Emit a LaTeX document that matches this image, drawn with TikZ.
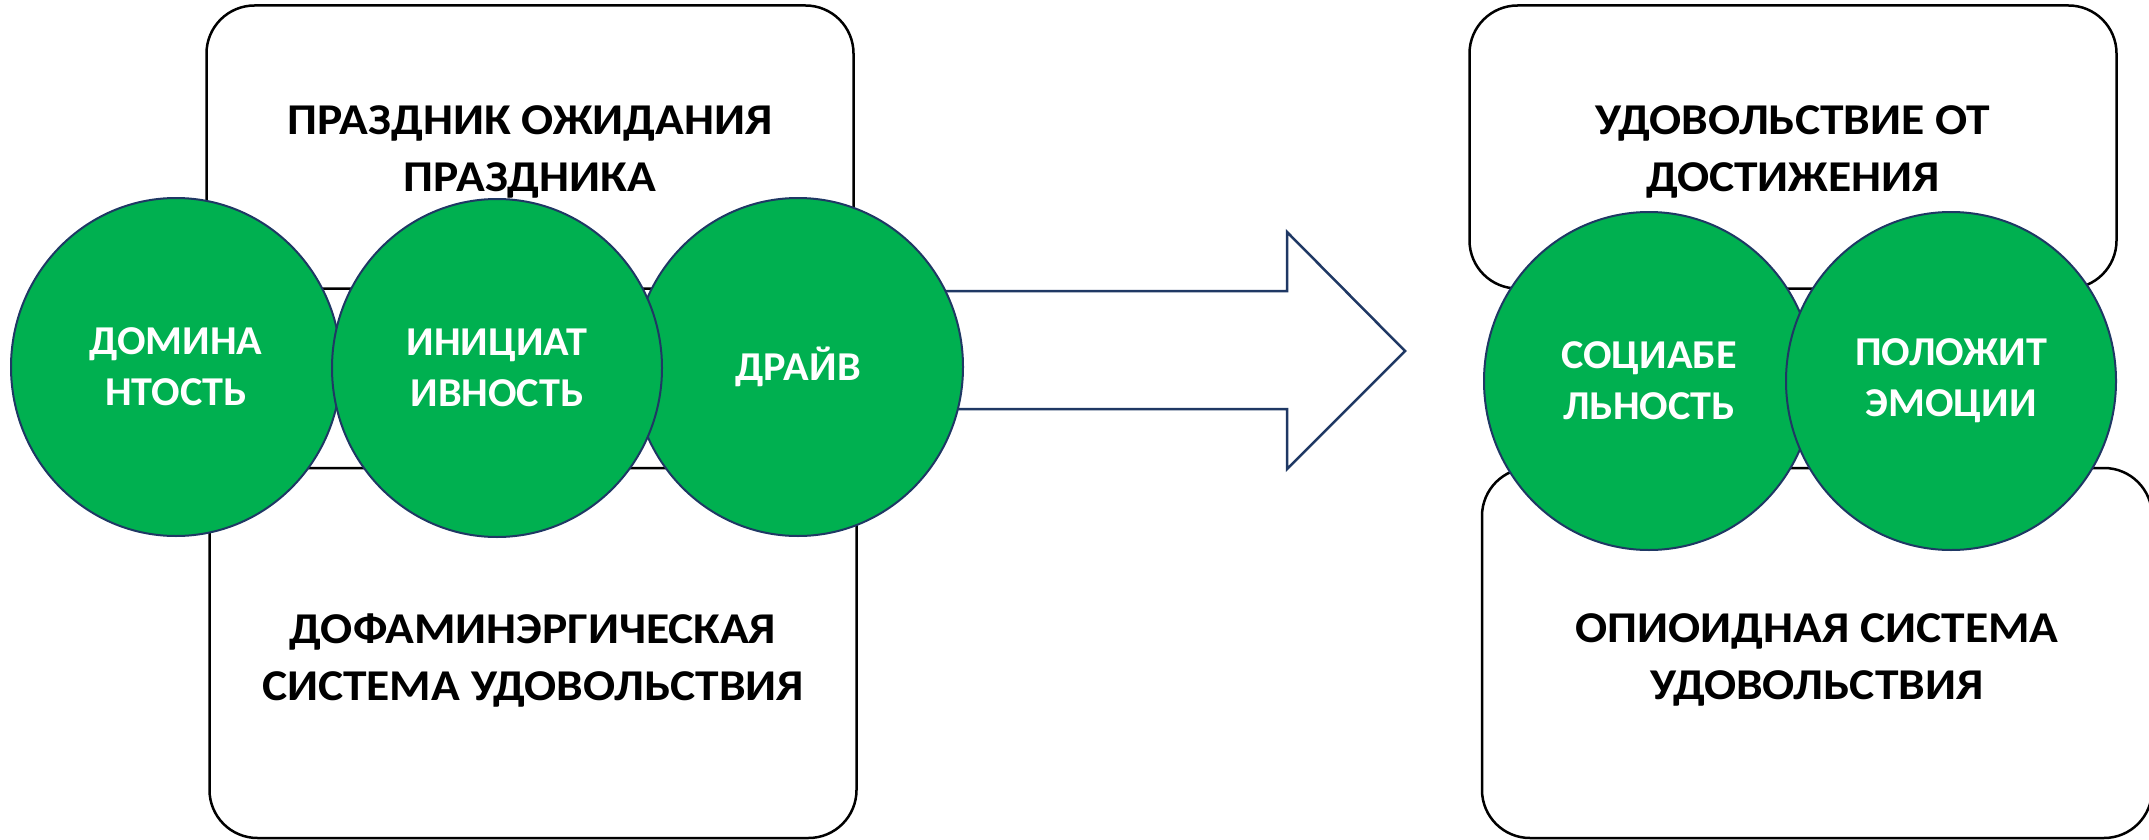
\documentclass[tikz,border=0pt]{standalone}
\usepackage{fontspec}
\setmainfont{Carlito}
\newfontfamily\boxfont[FakeStretch=1.08]{Carlito}
\newfontfamily\bubblefont[FakeStretch=1.03]{Carlito}
\usetikzlibrary{shapes.geometric}
\definecolor{bubblegreen}{HTML}{00B050}
\definecolor{bubbleedge}{HTML}{1F3864}

\begin{document}
\begin{tikzpicture}[x=1pt, y=-1pt,
                    box/.style={rectangle,draw=black,line width=2.5pt,rounded corners=48pt,fill=white},
                    boxtext/.style={align=center,font=\boxfont\fontsize{44}{57}\selectfont\bfseries},
                    bubble/.style={ellipse,draw=bubbleedge,line width=2pt,fill=bubblegreen,text=white,
                                   minimum width=330pt,minimum height=338pt,inner sep=0pt,
                                   align=center,font=\bubblefont\fontsize{41}{51}\selectfont\bfseries},
                    blockarrow/.style={draw=bubbleedge,line width=2.5pt,fill=white,line join=miter}]

   \path[use as bounding box] (0,0) rectangle (2149,840);
   \clip (0,0) rectangle (2149,840);

   % left side
   \node[box,minimum width=647pt,minimum height=283pt] (wait) at (530,147) {};
   \node[box,minimum width=647pt,minimum height=370pt] (dopa) at (533,653) {};
   \node[boxtext,yshift=-5pt] (waittxt) at (wait.center) {ПРАЗДНИК ОЖИДАНИЯ\\ПРАЗДНИКА};
   \node[boxtext,yshift=-7pt] (dopatxt) at (dopa.center) {ДОФАМИНЭРГИЧЕСКАЯ\\СИСТЕМА УДОВОЛЬСТВИЯ};

   % right side
   \node[box,minimum width=647pt,minimum height=283pt] (goal) at (1793,147) {};
   \node[box,minimum width=670pt,minimum height=370pt] (opio) at (1817,653) {};
   \node[boxtext,yshift=-5pt] (goaltxt) at (goal.center) {УДОВОЛЬСТВИЕ ОТ\\ДОСТИЖЕНИЯ};
   \node[boxtext,yshift=-7pt] (opiotxt) at (opio.center) {ОПИОИДНАЯ СИСТЕМА\\УДОВОЛЬСТВИЯ};

   \draw[blockarrow] (850,291) -- (1287,291) -- (1287,232) -- (1405,351)
                     -- (1287,469) -- (1287,409) -- (850,409) -- cycle;

   \node[bubble] (dom) at (176,367) {ДОМИНА\\НТОСТЬ};
   \node[bubble] (drv) at (798,367) {ДРАЙВ};
   \node[bubble] (ini) at (497,368) {ИНИЦИАТ\\ИВНОСТЬ};

   \node[bubble] (soc) at (1649,381) {СОЦИАБЕ\\ЛЬНОСТЬ};
   \node[bubble] (emo) at (1951,381) {ПОЛОЖИТ\\ЭМОЦИИ};

\end{tikzpicture}
\end{document}
